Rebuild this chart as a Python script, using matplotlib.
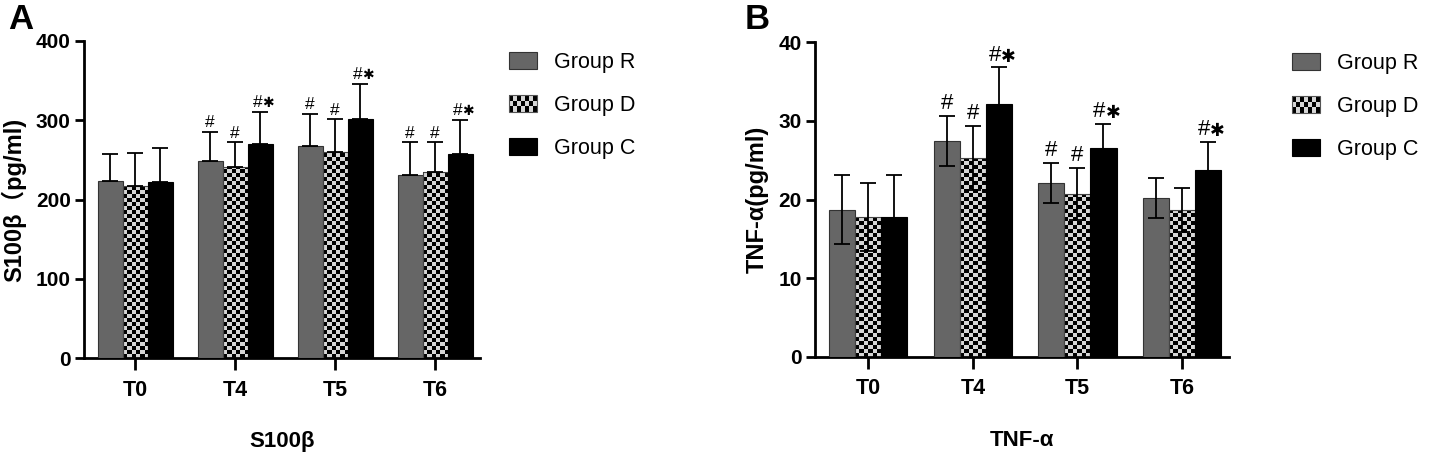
import numpy as np
import matplotlib
matplotlib.use('Agg')
import matplotlib.pyplot as plt
from matplotlib.patches import Rectangle
from matplotlib.legend_handler import HandlerBase

# 시점
groups = ['T0', 'T4', 'T5', 'T6']
series = ['Group R', 'Group D', 'Group C']

# S100β (pg/ml) 평균, SD
s100_r = [223, 248, 267, 231]
s100_d = [217, 241, 260, 235]
s100_c = [222, 270, 302, 258]
s100_r_sd = [35, 37, 41, 41]
s100_d_sd = [42, 31, 41, 37]
s100_c_sd = [43, 40, 44, 42]
s100_marks_r = ['', '#', '#', '#']
s100_marks_d = ['', '#', '#', '#']
s100_marks_c = ['', '#*', '#*', '#*']

# TNF-α (pg/ml) 평균, SD
tnf_r = [18.7, 27.4, 22.1, 20.2]
tnf_d = [17.8, 25.3, 20.7, 18.7]
tnf_c = [17.8, 32.2, 26.5, 23.7]
tnf_r_sd = [4.4, 3.2, 2.6, 2.5]
tnf_d_sd = [4.3, 4.1, 3.3, 2.8]
tnf_c_sd = [5.3, 4.6, 3.1, 3.6]
tnf_marks_r = ['', '#', '#', '']
tnf_marks_d = ['', '#', '#', '']
tnf_marks_c = ['', '#*', '#*', '#*']

GRAY = '#666666'
LIGHT = '#d6d6d6'
FONT = ['Liberation Sans', 'Noto Sans CJK SC', 'DejaVu Sans']

plt.rcParams['font.family'] = FONT
plt.rcParams['axes.unicode_minus'] = False

DPI = 100
fig = plt.figure(figsize=(14.29, 4.57), dpi=DPI)
ax1 = fig.add_axes([0.0588, 0.2166, 0.2772, 0.6937])
ax2 = fig.add_axes([0.5703, 0.2195, 0.2897, 0.6879])


class CheckerHandler(HandlerBase):
    # 범례용 체크무늬
    def create_artists(self, legend, orig_handle, xdescent, ydescent,
                       width, height, fontsize, trans):
        nx, ny = 7, 3
        cw = width / nx
        ch = height / ny
        arts = [Rectangle((-xdescent, -ydescent), width, height,
                          facecolor=LIGHT, edgecolor='none', transform=trans)]
        for i in range(nx):
            for j in range(ny):
                if (i + j) % 2 == 0:
                    arts.append(Rectangle((-xdescent + i * cw, -ydescent + j * ch), cw, ch,
                                          facecolor='black', edgecolor='none', transform=trans))
        arts.append(Rectangle((-xdescent, -ydescent), width, height,
                              facecolor='none', edgecolor='#555555', lw=0.8, transform=trans))
        return arts


def checker_fill(ax, bars, ylim, cell_px=4.0):
    # 막대 안을 체크무늬 이미지로 채우기
    pos = ax.get_position()
    ax_h = fig.get_figheight() * DPI * pos.height
    cell_h = cell_px * (ylim[1] - ylim[0]) / ax_h
    for b in bars:
        x0 = b.get_x()
        w = b.get_width()
        h = b.get_height()
        nx = 6
        ny = int(np.ceil(h / cell_h))
        grid = (np.add.outer(np.arange(ny), np.arange(nx)) % 2).astype(float)
        im = ax.imshow(grid, cmap=matplotlib.colors.ListedColormap(['black', LIGHT]),
                       extent=(x0, x0 + w, 0, ny * cell_h), origin='lower',
                       interpolation='nearest', aspect='auto', zorder=2)
        im.set_clip_path(b)


def put_mark(ax, xi, y, m, size):
    # '#' 와 굵은 별표
    if m == '#':
        ax.text(xi, y, '#', ha='center', va='bottom', fontsize=size, zorder=5)
    else:
        ax.text(xi + 0.02, y, '#', ha='right', va='bottom', fontsize=size, zorder=5)
        ax.text(xi + 0.02, y, '✱', ha='left', va='bottom', fontsize=size * 0.8,
                family=['DejaVu Sans'], zorder=5)


def draw_panel(ax, vals, sds, marks, ylim, yticks, ylabel, xlabel, both_err, mark_size, legend_anchor):
    x = np.arange(len(groups))
    w = 0.25
    faces = [GRAY, 'none', 'black']
    edges = ['#333333', '#444444', 'black']
    bars_all = []
    for k in range(3):
        xs = x + (k - 1) * w
        bars = ax.bar(xs, vals[k], w, color=faces[k], edgecolor=edges[k],
                      linewidth=0.8, zorder=3, label=series[k])
        bars_all.append(bars)
        if both_err:
            err = sds[k]
        else:
            err = [np.zeros(len(groups)), sds[k]]
        ax.errorbar(xs, vals[k], yerr=err, fmt='none', ecolor='black',
                    elinewidth=1.3, capsize=5.5, capthick=1.3, zorder=4)
        for xi, v, s, m in zip(xs, vals[k], sds[k], marks[k]):
            if m:
                put_mark(ax, xi, v + s + (ylim[1] - ylim[0]) * 0.006, m, mark_size)
    ax.set_xlim(-0.51, 3.45)
    ax.set_ylim(*ylim)
    checker_fill(ax, bars_all[1], ylim)
    ax.set_xlim(-0.51, 3.45)
    ax.set_ylim(*ylim)

    ax.set_xticks(x)
    ax.set_xticklabels(groups, fontsize=15.5, fontweight='bold')
    ax.set_yticks(yticks)
    ax.set_yticklabels([str(t) for t in yticks], fontsize=15, fontweight='bold')
    ax.tick_params(axis='y', length=6.5, width=2, pad=3)
    ax.tick_params(axis='x', length=8.5, width=2, pad=7)
    for s in ['top', 'right']:
        ax.spines[s].set_visible(False)
    for s in ['left', 'bottom']:
        ax.spines[s].set_linewidth(2)
    ax.set_ylabel(ylabel, fontsize=17, fontweight='bold', labelpad=7)
    ax.set_xlabel(xlabel, fontsize=16, fontweight='bold', labelpad=22)

    handles = [bars_all[0][0], bars_all[1][0], bars_all[2][0]]
    ax.legend(handles, series, handler_map={bars_all[1][0]: CheckerHandler()},
              loc='upper left', bbox_to_anchor=legend_anchor, bbox_transform=fig.transFigure,
              frameon=False, fontsize=15.5, handlelength=1.3, handleheight=0.8,
              handletextpad=0.8, labelspacing=1.02, borderpad=0, borderaxespad=0)


draw_panel(ax1, [s100_r, s100_d, s100_c], [s100_r_sd, s100_d_sd, s100_c_sd],
           [s100_marks_r, s100_marks_d, s100_marks_c], (0, 400), [0, 100, 200, 300, 400],
           'S100β（pg/ml)', 'S100β', False, 12.5, (509 / 1429, 1 - 52 / 457))
draw_panel(ax2, [tnf_r, tnf_d, tnf_c], [tnf_r_sd, tnf_d_sd, tnf_c_sd],
           [tnf_marks_r, tnf_marks_d, tnf_marks_c], (0, 40), [0, 10, 20, 30, 40],
           'TNF-α(pg/ml)', 'TNF-α', True, 16, (1292 / 1429, 1 - 53 / 457))

fig.text(8 / 1429, 1 - 3 / 457, 'A', fontsize=25, fontweight='bold', va='top', ha='left')
fig.text(745 / 1429, 1 - 3 / 457, 'B', fontsize=25, fontweight='bold', va='top', ha='left')

fig.savefig('out.png', dpi=DPI)
